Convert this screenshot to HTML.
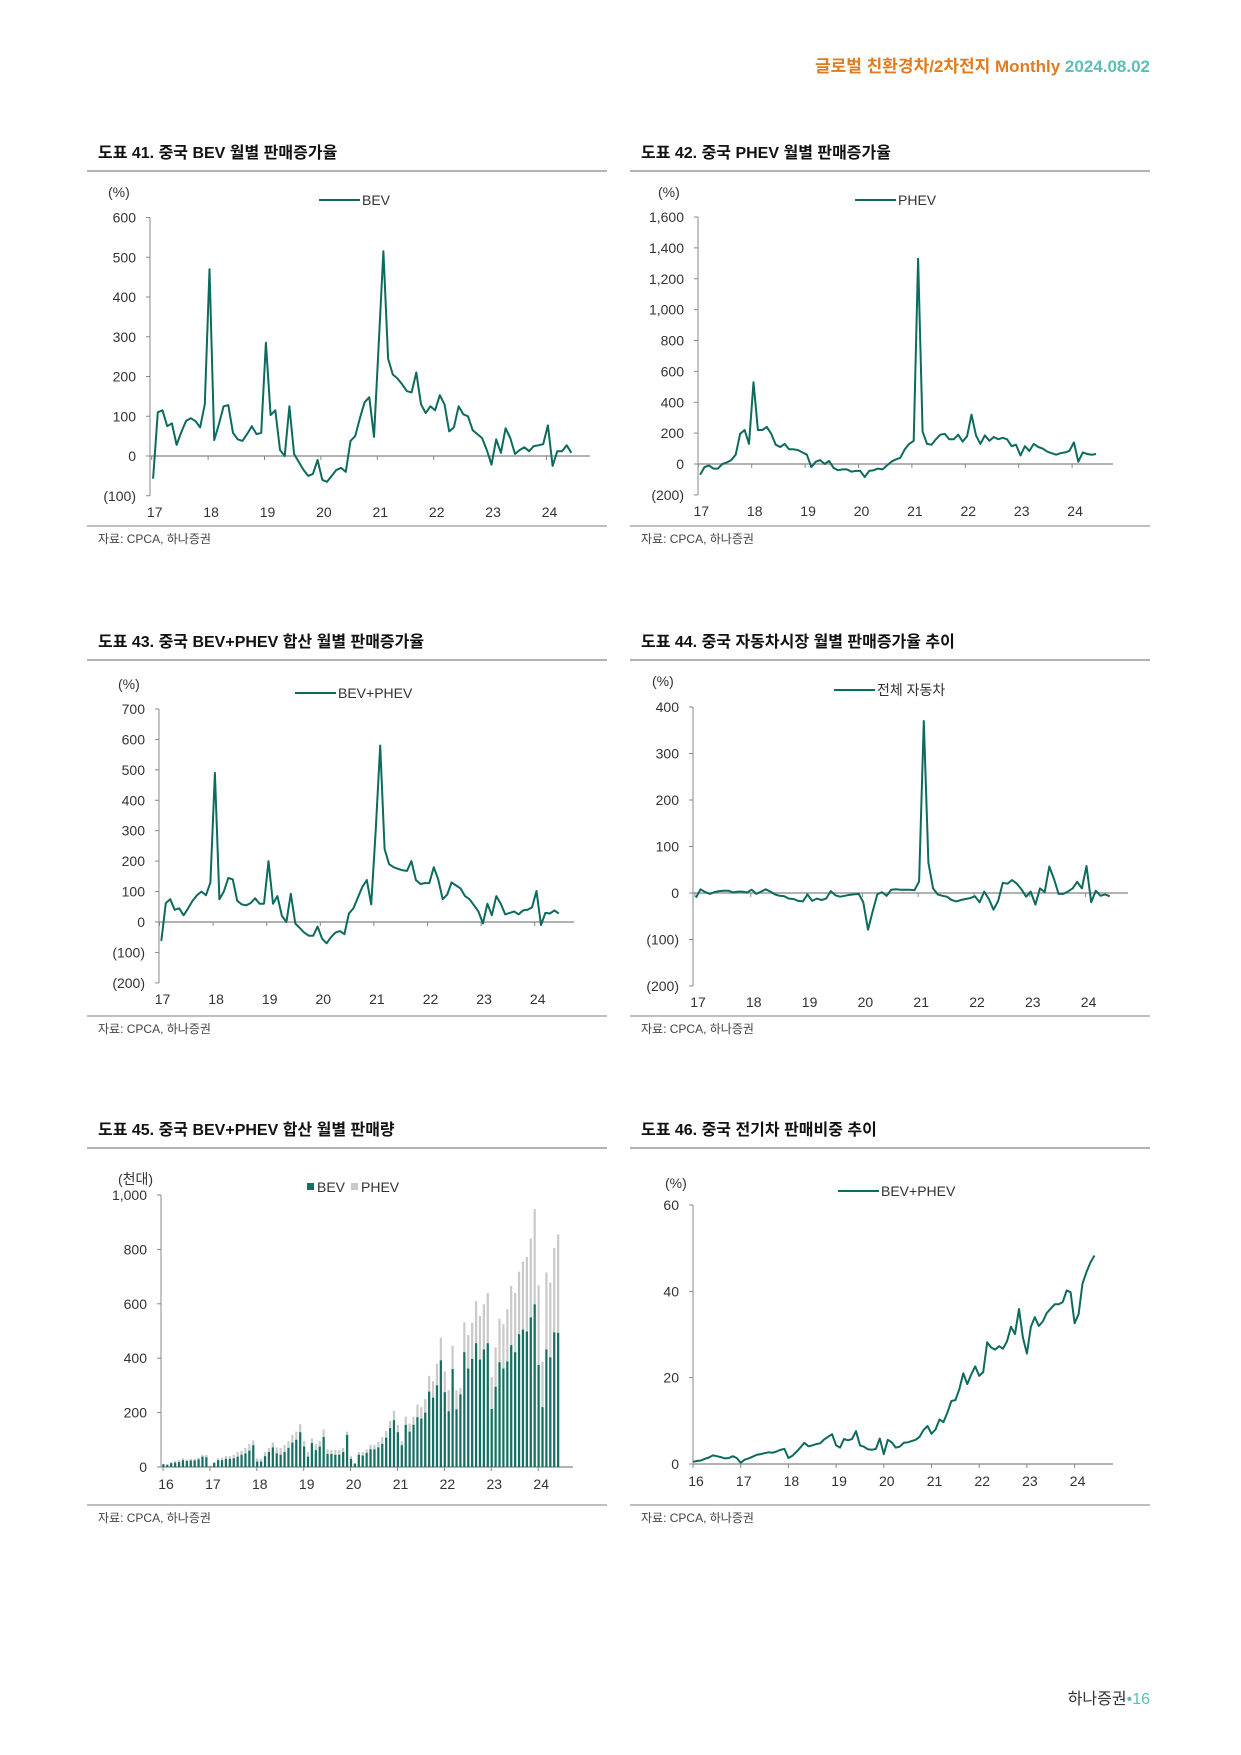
<!DOCTYPE html>
<html><head><meta charset="utf-8"><style>
body{margin:0;background:#fff;}
svg{display:block;font-family:"Liberation Sans","Noto Sans CJK KR",sans-serif;}
.t{font-size:16px;font-weight:bold;fill:#111;}
.s{font-size:12px;fill:#444;}
.tk{font-size:14px;fill:#333;}
</style></head><body>
<svg id="page" width="1241" height="1755" viewBox="0 0 1241 1755" xmlns="http://www.w3.org/2000/svg">
<text x="1150" y="72" text-anchor="end" font-size="17" font-weight="bold"><tspan fill="#e07b1f">글로벌 친환경차/2차전지 Monthly </tspan><tspan fill="#5bbfb5">2024.08.02</tspan></text>
<text x="1150" y="1704" text-anchor="end" font-size="16"><tspan fill="#333">하나증권</tspan><tspan fill="#5bbfb5">•16</tspan></text>
<g id="charts"></g>
</svg>
<script>
const bevGrowth=[-57,110,115,75,82,28,60,88,95,88,72,130, 470,40,80,125,128,58,42,38,55,75,55,58, 285,103,115,15,0,125,5,-15,-35,-50,-45,-10, -60,-65,-50,-35,-30,-40,38,50,95,135,148,48, 280,515,245,205,195,180,163,160,210,130,108,125, 115,153,130,62,72,125,105,100,65,55,45,15, -22,42,8,70,45,5,15,22,12,25,27,30, 77,-25,12,12,27,8];
const phevGrowth=[-70,-20,-10,-30,-30,0,10,25,60,195,220,130, 530,220,220,240,195,125,110,130,95,95,90,75, 60,-20,15,25,0,20,-25,-40,-35,-35,-50,-45, -45,-85,-45,-40,-30,-35,-10,15,30,40,95,130, 150,1330,210,130,125,160,190,195,160,160,190,145, 180,320,185,130,185,150,175,160,170,160,115,125, 55,115,85,130,110,100,80,70,60,70,75,85, 140,15,75,65,60,65];
const nevGrowth=[-62,62,75,40,45,22,45,70,88,100,88,130, 490,75,100,145,140,70,58,55,62,78,60,60, 200,60,85,20,0,93,-5,-20,-35,-45,-45,-15, -55,-70,-50,-35,-30,-40,28,45,80,115,138,58, 300,580,240,190,180,175,170,168,200,138,125,128, 128,180,140,75,90,130,120,110,85,75,55,35, -5,60,22,85,60,25,30,35,25,38,40,48, 102,-10,30,28,38,28];
const autoGrowth=[-10,8,2,-2,2,4,5,5,1,3,3,1, 7,-2,3,8,3,-3,-6,-7,-12,-13,-17,-18, -3,-17,-12,-15,-12,4,-5,-8,-6,-4,-3,-2, -20,-79,-40,-3,2,-6,7,8,7,7,7,6, 25,370,65,10,-3,-6,-8,-15,-18,-15,-13,-11, -7,-20,3,-13,-36,-17,22,20,28,20,8,-8, 3,-25,10,2,57,30,-2,-2,3,10,24,10, 58,-20,5,-6,-3,-7];
const bevSales=[10,8,14,16,18,25,22,24,24,28,38,36, 2,15,25,25,30,30,32,38,45,50,60,80, 20,20,40,55,72,50,45,55,70,90,100,128, 75,38,88,62,75,110,48,48,45,45,55,118, 30,12,45,42,52,65,65,72,85,108,143,172, 128,80,155,130,155,183,178,200,277,255,300,392, 275,205,360,212,267,422,362,397,455,395,432,455, 213,295,385,362,388,448,422,488,505,498,550,598, 375,220,432,403,495,493];
const totalSales=[12,10,18,22,25,32,28,30,30,35,45,44, 5,18,32,35,40,40,45,55,60,70,85,98, 32,30,55,70,90,72,70,80,95,118,130,158, 95,55,105,85,95,138,65,62,62,62,70,130, 40,15,55,55,65,82,82,92,110,132,170,207, 155,95,185,160,185,230,220,250,335,315,380,475, 352,282,445,282,290,532,485,530,610,555,598,640, 330,440,545,525,580,665,640,718,755,772,840,948, 668,387,715,678,805,855];
const nevShare=[0.5,0.7,0.8,1.2,1.5,2,1.8,1.6,1.3,1.4,1.8,1.4, 0.3,1.0,1.3,1.7,2.1,2.3,2.5,2.7,2.6,2.9,3.3,3.5, 1.4,1.9,2.8,3.8,4.9,4.1,4.3,4.6,4.8,5.7,6.3,6.9, 4.3,3.8,5.8,5.5,5.8,7.6,4.3,4.0,3.4,3.3,3.5,5.9, 2.3,5.6,5.0,3.8,4.0,4.9,5.0,5.3,5.6,6.3,7.9,8.8, 7.0,8.0,10.3,9.7,11.9,14.6,14.8,17.3,21,18.5,20.8,22.6, 20.4,21.3,28.2,27.0,26.5,27.3,26.7,28.4,31.8,30.1,35.9,29.3, 25.6,31.8,34,32,33,35,36,37,37,37.5,40.2,39.8, 32.6,34.7,41.8,44.5,46.7,48.3];
const yearLabels17=['17','18','19','20','21','22','23','24'];
const yearLabels16=['16','17','18','19','20','21','22','23','24'];
const ticks1=[600,500,400,300,200,100,0,-100];
const ticks2=[1600,1400,1200,1000,800,600,400,200,0,-200];
const ticks3=[700,600,500,400,300,200,100,0,-100,-200];
const ticks4=[400,300,200,100,0,-100,-200];
const ticks5=[1000,800,600,400,200,0];
const ticks6=[60,40,20,0];

const NS='http://www.w3.org/2000/svg';
const root=document.getElementById('charts');
const TEAL='#0d6b5e';
function mk(tag,attrs,parent,text){const e=document.createElementNS(NS,tag);for(const k in attrs)e.setAttribute(k,attrs[k]);if(text!==undefined)e.textContent=text;(parent||root).appendChild(e);return e;}
function fmt(v){const a=Math.abs(v).toLocaleString('en-US');return v<0?'('+a+')':a;}

function panel(c){
  const g=mk('g',{});
  
  
  const t=mk('text',{x:c.px+11,y:c.ty,class:'t'},g,c.title);
  
  
  const l1=mk('line',{x1:c.px,x2:c.px+520,y1:c.ty+13,y2:c.ty+13,stroke:'#999','stroke-width':1.5},g);
  
  
  const l2=mk('line',{x1:c.px,x2:c.px+520,y1:c.by,y2:c.by,stroke:'#aaa','stroke-width':1.5},g);
  
  
  const s=mk('text',{x:c.px+11,y:c.by+17,class:'s'},g,'자료: CPCA, 하나증권');
  
  
  const yv=v=>c.yAt0+(c.yTop-c.yAt0)*(v/c.vTop);
  const u=mk('text',{x:c.ux,y:c.uy,class:'tk','font-size':13},g,c.unit);
  
  
  const ymin=yv(c.yt[c.yt.length-1]),ymax=yv(c.yt[0]);
  const ax=mk('line',{x1:c.ax,x2:c.ax,y1:ymax,y2:ymin,stroke:'#888','stroke-width':1},g);
  
  
  c.yt.forEach(v=>{
    const y=yv(v);
    mk('line',{x1:c.ax-4,x2:c.ax,y1:y,y2:y,stroke:'#888'},g);
    const tt=mk('text',{x:c.ax-14,y:y+5,'text-anchor':'end',class:'tk'},g,fmt(v));
    
    
  });
  const y0=yv(0);
  const xa=mk('line',{x1:c.ax,x2:c.axEnd,y1:y0,y2:y0,stroke:'#999','stroke-width':1.5},g);
  
  
  c.xl.forEach((lab,i)=>{
    const x=c.x0+i*c.ysp;
    mk('line',{x1:x,x2:x,y1:y0,y2:y0+4,stroke:'#888'},g);
    const tt=mk('text',{x:x+3,y:c.xly,'text-anchor':'middle',class:'tk'},g,lab);
    
    
  });
  const xm=i=>c.x0+(i+c.off)*c.ysp/12;
  if(c.bars){
    c.bars.total.forEach((v,i)=>{
      const x=xm(i);
      const r=mk('rect',{x:x-1.1,y:yv(v),width:2.2,height:y0-yv(v),fill:'#c9c9c9'},g);
      
      
      const b=c.bars.bev[i];
      const r2=mk('rect',{x:x-1.1,y:yv(b),width:2.2,height:y0-yv(b),fill:'#137062'},g);
      
      
    });
    const lg=mk('g',{},g);
    
    
    mk('rect',{x:c.lx,y:c.ly-4,width:7,height:7,fill:'#137062'},lg);
    mk('text',{x:c.lx+10,y:c.ly+5,class:'tk','font-size':13},lg,'BEV');
    mk('rect',{x:c.lx+44,y:c.ly-4,width:7,height:7,fill:'#c9c9c9'},lg);
    mk('text',{x:c.lx+54,y:c.ly+5,class:'tk','font-size':13},lg,'PHEV');
  } else {
    const d=c.data.map((v,i)=>(i?'L':'M')+xm(i).toFixed(1)+','+yv(v).toFixed(1)).join('');
    const p=mk('path',{d:d,fill:'none',stroke:TEAL,'stroke-width':2,'stroke-linejoin':'round'},g);
    
    
    const lg=mk('g',{},g);
    
    
    mk('line',{x1:c.lx,x2:c.lx+41,y1:c.ly,y2:c.ly,stroke:TEAL,'stroke-width':2},lg);
    mk('text',{x:c.lx+43,y:c.ly+5,class:'tk','font-size':13},lg,c.leg);
  }
}

panel({name:'chart-bev-growth',title:'도표 41. 중국 BEV 월별 판매증가율',px:87,ty:158,by:526,unit:'(%)',ux:108,uy:197,
  yt:ticks1,vTop:600,yTop:217.5,yAt0:456,ax:150,axEnd:590,x0:151.7,ysp:56.4,off:0.3,xl:yearLabels17,xly:517,
  data:bevGrowth,lx:319,ly:200,leg:'BEV'});
panel({name:'chart-phev-growth',title:'도표 42. 중국 PHEV 월별 판매증가율',px:630,ty:158,by:526,unit:'(%)',ux:658,uy:197,
  yt:ticks2,vTop:1600,yTop:217,yAt0:464,ax:698,axEnd:1113,x0:698.3,ysp:53.4,off:0.4,xl:yearLabels17,xly:516,
  data:phevGrowth,lx:855,ly:200,leg:'PHEV'});
panel({name:'chart-nev-growth',title:'도표 43. 중국 BEV+PHEV 합산 월별 판매증가율',px:87,ty:647,by:1016,unit:'(%)',ux:118,uy:689,
  yt:ticks3,vTop:700,yTop:709,yAt0:922,ax:159,axEnd:574,x0:159.5,ysp:53.6,off:0.4,xl:yearLabels17,xly:1004,
  data:nevGrowth,lx:295,ly:693,leg:'BEV+PHEV'});
panel({name:'chart-auto-growth',title:'도표 44. 중국 자동차시장 월별 판매증가율 추이',px:630,ty:647,by:1016,unit:'(%)',ux:652,uy:686,
  yt:ticks4,vTop:400,yTop:707,yAt0:893,ax:693,axEnd:1128,x0:695,ysp:55.8,off:0.2,xl:yearLabels17,xly:1007,
  data:autoGrowth,lx:834,ly:690,leg:'전체 자동차'});
panel({name:'chart-nev-sales',title:'도표 45. 중국 BEV+PHEV 합산 월별 판매량',px:87,ty:1135,by:1505,unit:'(천대)',ux:118,uy:1184,
  yt:ticks5,vTop:1000,yTop:1195,yAt0:1467,ax:161,axEnd:573,x0:163,ysp:46.9,off:0.1,xl:yearLabels16,xly:1489,
  bars:{bev:bevSales,total:totalSales},lx:307,ly:1187});
panel({name:'chart-nev-share',title:'도표 46. 중국 전기차 판매비중 추이',px:630,ty:1135,by:1505,unit:'(%)',ux:665,uy:1188,
  yt:ticks6,vTop:60,yTop:1205,yAt0:1464,ax:693,axEnd:1113,x0:693,ysp:47.7,off:0,xl:yearLabels16,xly:1486,
  data:nevShare,lx:838,ly:1191,leg:'BEV+PHEV'});
</script>
</body></html>
